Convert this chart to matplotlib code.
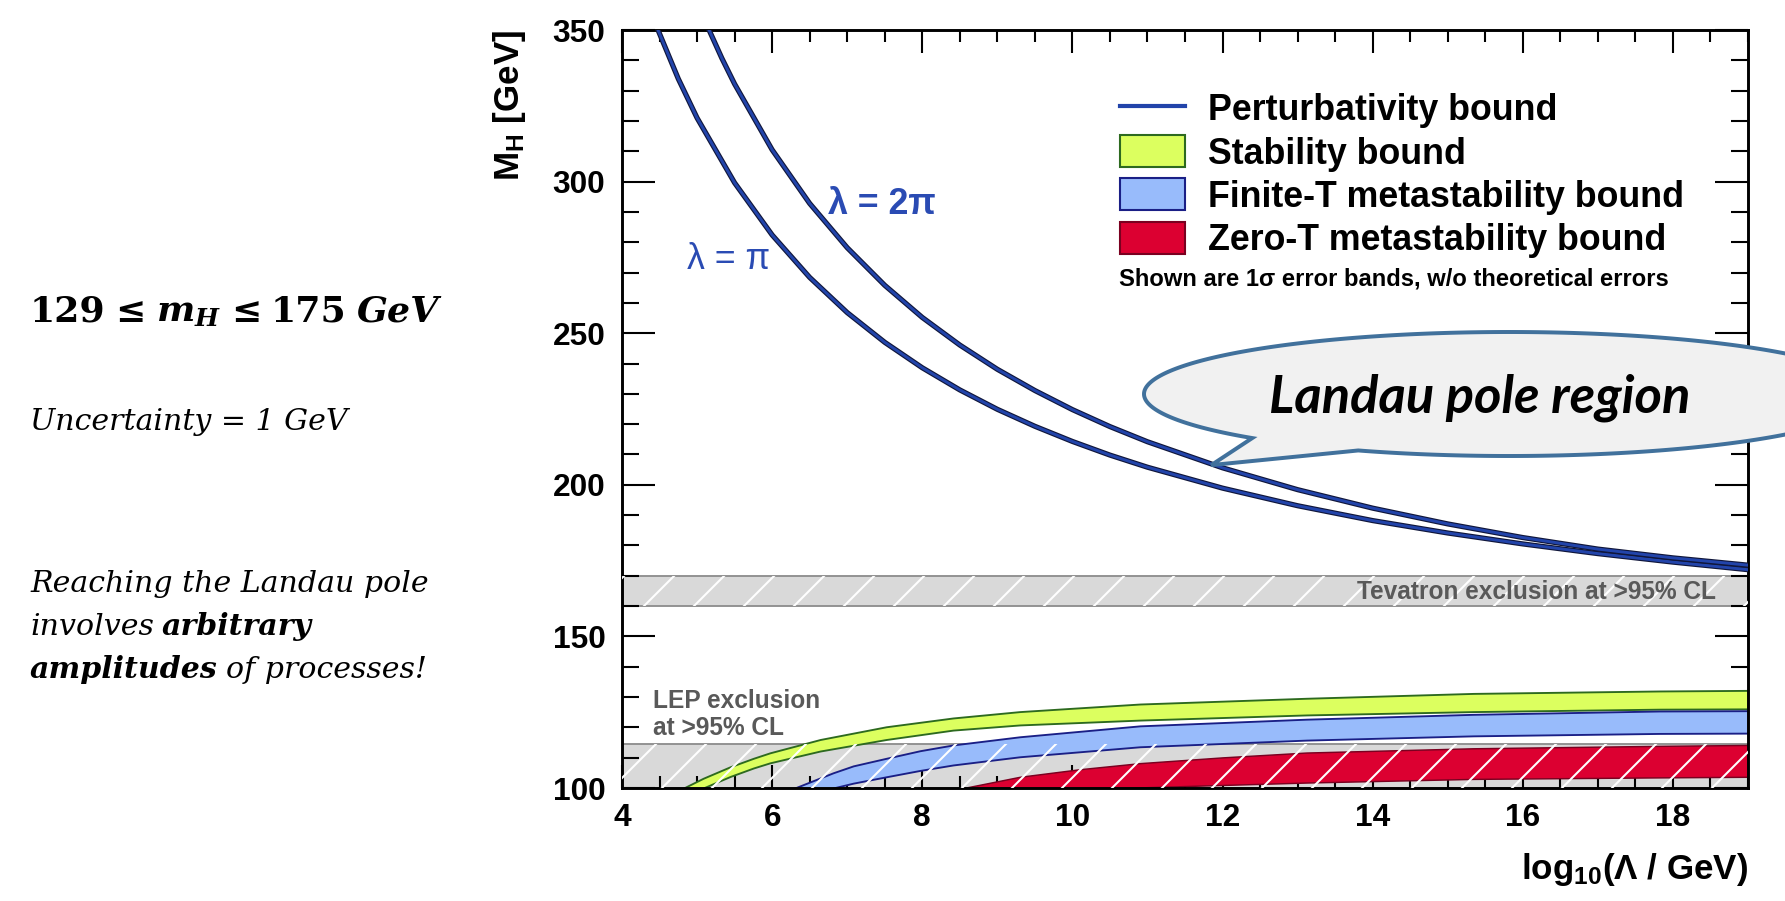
import numpy as np
import matplotlib
matplotlib.use('Agg')
import matplotlib.pyplot as plt
import matplotlib.patheffects as pe
from matplotlib.lines import Line2D
from matplotlib.patches import Patch, Polygon
from matplotlib.ticker import MultipleLocator

W, H, DPI = 1785, 901, 300

# perturbativity bound (Landau pole), lambda = pi and lambda = 2 pi
x_pi = [4.48, 4.75, 5.0, 5.5, 6.0, 6.5, 7.0, 7.5, 8.0, 8.5, 9.0, 9.5, 10.0,
        10.5, 11.0, 12.0, 13.0, 14.0, 15.0, 16.0, 17.0, 18.0, 19.0]
m_pi = [350, 333.9, 321, 299.6, 282.4, 268.4, 256.8, 247.0, 238.6, 231.3, 224.9,
        219.3, 214.3, 209.8, 205.8, 198.9, 193.1, 188.2, 184.1, 180.5, 177.3, 174.5, 172.0]
x_2pi = [5.16, 5.33, 5.5, 6.0, 6.5, 7.0, 7.5, 8.0, 8.5, 9.0, 9.5, 10.0, 10.5,
         11.0, 12.0, 13.0, 14.0, 15.0, 16.0, 17.0, 18.0, 19.0]
m_2pi = [350, 340.7, 332.2, 310.5, 292.8, 278.2, 265.8, 255.2, 246.1, 238.1, 231.1,
         224.8, 219.2, 214.2, 205.6, 198.4, 192.3, 187.1, 182.6, 178.8, 175.9, 173.5]

# stability bound band
x_stab = [4.82, 5.08, 5.44, 5.75, 5.97, 6.64, 7.52, 8.41, 9.30, 10.9, 13.12, 15.34, 17.82, 19.0]
stab_hi = [100, 103.2, 107.0, 109.8, 111.6, 116.0, 120.2, 123.1, 125.2, 127.7, 129.6, 131.2, 132.0, 132.2]
stab_lo = [96.5, 100, 103.8, 106.6, 108.3, 112.2, 116.0, 119.1, 120.8, 122.4, 124.1, 125.2, 126.0, 126.1]

# finite-T metastability band
x_fin = [6.30, 6.81, 7.08, 7.52, 7.97, 8.41, 9.30, 10.9, 13.12, 15.34, 17.82, 19.0]
fin_hi = [100, 105.0, 107.3, 109.8, 112.3, 114.2, 116.9, 120.5, 122.7, 124.3, 125.4, 125.5]
fin_lo = [95, 100, 101.6, 103.7, 105.8, 107.6, 110.3, 113.6, 115.8, 117.2, 118.0, 118.1]

# zero-T metastability band
x_zero = [8.55, 9.30, 10.1, 10.9, 12.0, 13.12, 15.34, 17.82, 19.0]
zero_hi = [100, 103.7, 106.2, 108.2, 110.1, 111.7, 113.1, 113.9, 114.2]
zero_lo = [96, 98.0, 99.3, 100.2, 101.0, 101.8, 103.0, 103.5, 103.7]

# experimental exclusions
lep_lo, lep_hi = 100, 114.4
tev_lo, tev_hi = 160, 170

c_pert = '#2244aa'
c_stab, e_stab = '#dcff5f', '#2d6a1f'
c_fin, e_fin = '#98bbfb', '#1a1f86'
c_zero, e_zero = '#dc0031', '#7a0020'
c_gray, e_gray = '#d9d9d9', '#8f8f8f'
c_txt = '#595959'

plt.rcParams['font.family'] = ['Liberation Sans', 'DejaVu Sans']
plt.rcParams['mathtext.default'] = 'regular'
plt.rcParams['hatch.color'] = 'white'
plt.rcParams['hatch.linewidth'] = 0.5

fig = plt.figure(figsize=(W / DPI, H / DPI), dpi=DPI)
ax = fig.add_axes([622 / W, 1 - 788 / H, 1126 / W, 758 / H])

# exclusion bands (grey + white hatching)
ax.axhspan(lep_lo, lep_hi, facecolor=c_gray, edgecolor=e_gray, lw=0.45, zorder=1)
ax.axhspan(tev_lo, tev_hi, facecolor=c_gray, edgecolor=e_gray, lw=0.45, zorder=1)

ax.fill_between(x_stab, stab_lo, stab_hi, facecolor=c_stab, edgecolor=e_stab, lw=0.45, zorder=2)
ax.fill_between(x_fin, fin_lo, fin_hi, facecolor=c_fin, edgecolor=e_fin, lw=0.45, zorder=2)
ax.fill_between(x_zero, zero_lo, zero_hi, facecolor=c_zero, edgecolor=e_zero, lw=0.35, zorder=2)

ax.axhspan(lep_lo, lep_hi, facecolor='none', edgecolor='white', hatch='//', lw=0, zorder=3)
ax.axhspan(tev_lo, tev_hi, facecolor='none', edgecolor='white', hatch='//', lw=0, zorder=3)

outline = [pe.Stroke(linewidth=1.25, foreground='#10163a'), pe.Normal()]
ax.plot(x_pi, m_pi, color=c_pert, lw=0.7, zorder=4, path_effects=outline)
ax.plot(x_2pi, m_2pi, color=c_pert, lw=0.7, zorder=4, path_effects=outline)

ax.text(5.42, 274.3, 'λ = π', color='#2a4bb3', fontsize=8.6, ha='center', va='center')
ax.text(7.46, 292.4, 'λ = 2π', color='#2a4bb3', fontsize=8.6, weight='bold',
        ha='center', va='center')
ax.text(4.41, 126.4, 'LEP exclusion', color=c_txt, fontsize=5.9, weight='bold', va='baseline')
ax.text(4.41, 117.4, 'at >95% CL', color=c_txt, fontsize=5.9, weight='bold', va='baseline')
ax.text(18.58, 162.3, 'Tevatron exclusion at >95% CL', color=c_txt, fontsize=5.9,
        weight='bold', ha='right', va='baseline', zorder=5)

ax.set_xlim(4, 19)
ax.set_ylim(100, 350)
ax.xaxis.set_major_locator(MultipleLocator(2))
ax.xaxis.set_minor_locator(MultipleLocator(0.5))
ax.yaxis.set_major_locator(MultipleLocator(50))
ax.yaxis.set_minor_locator(MultipleLocator(10))
ax.tick_params(which='both', direction='in', top=True, right=True, width=0.5,
               labelsize=7.6)
ax.tick_params(axis='x', which='major', length=5.5, pad=3.5)
ax.tick_params(axis='x', which='minor', length=2.9)
ax.tick_params(axis='y', which='major', length=7.9, pad=4.0)
ax.tick_params(axis='y', which='minor', length=4.0)
for lab in ax.get_xticklabels() + ax.get_yticklabels():
    lab.set_fontweight('bold')
for sp in ax.spines.values():
    sp.set_linewidth(0.7)

ax.set_xlabel('log$_{10}$(Λ / GeV)', loc='right', fontsize=8.4, weight='bold', labelpad=4.5)
ax.set_ylabel('M$_H$ [GeV]', loc='top', fontsize=8.4, weight='bold', labelpad=6)

handles = [Line2D([], [], color=c_pert, lw=1.0),
           Patch(facecolor=c_stab, edgecolor=e_stab, lw=0.5),
           Patch(facecolor=c_fin, edgecolor=e_fin, lw=0.5),
           Patch(facecolor=c_zero, edgecolor=e_zero, lw=0.5)]
labels = ['Perturbativity bound', 'Stability bound',
          'Finite-T metastability bound', 'Zero-T metastability bound']
ax.legend(handles, labels, loc='upper left', bbox_to_anchor=(0.442, 0.918),
          frameon=False, prop=dict(weight='bold', size=8.6), handlelength=1.82,
          handleheight=1.0, handletextpad=0.64, labelspacing=0.19, borderpad=0,
          borderaxespad=0)
ax.text(0.441, 0.672, 'Shown are 1σ error bands, w/o theoretical errors',
        transform=ax.transAxes, fontsize=5.7, weight='bold', va='center')

# overlay in pixel units for the slide texts and the callout
ov = fig.add_axes([0, 0, 1, 1], zorder=10)
ov.set_xlim(0, W)
ov.set_ylim(H, 0)
ov.axis('off')

# speech bubble pointing at the lambda = 2 pi curve
cx, cy, a, b = 1509, 394, 365, 62
t = np.radians(np.linspace(134.7, 114.4 + 360, 300))
tip = ax.transData.transform((11.85, 206.5))
pts = np.column_stack([cx + a * np.cos(t), cy + b * np.sin(t)])
pts = np.vstack([pts, [tip[0], H - tip[1]]])
ov.add_patch(Polygon(pts, closed=True, facecolor='#f1f1f1', edgecolor='#41719c',
                     lw=0.95, clip_on=False))
ov.text(1480, 412, 'Landau pole region', family='Lato', style='italic',
        weight='bold', fontsize=12.6, ha='center', va='baseline')

renderer = fig.canvas.get_renderer()


def rich_line(x, y, parts, size):
    for s, style in parts:
        txt = ov.text(x, y, s, fontsize=size, family='DejaVu Serif',
                      va='baseline', ha='left', **style)
        x += txt.get_window_extent(renderer).width + 0.27 * size * DPI / 72


bf = dict(weight='bold')
bfi = dict(weight='bold', style='italic')
it = dict(style='italic')
rich_line(30, 322, [('129', bf), ('≤', bf), ('$m_H$', bfi), ('≤', bf), ('175', bf),
                    ('GeV', bfi)], 8.7)
rich_line(30, 430, [('Uncertainty = 1 GeV', it)], 7.2)
rich_line(30, 592, [('Reaching the Landau pole', it)], 7.2)
rich_line(30, 635, [('involves', it), ('arbitrary', bfi)], 7.2)
rich_line(30, 678, [('amplitudes', bfi), ('of processes!', it)], 7.2)

fig.savefig('out.png', dpi=DPI)
